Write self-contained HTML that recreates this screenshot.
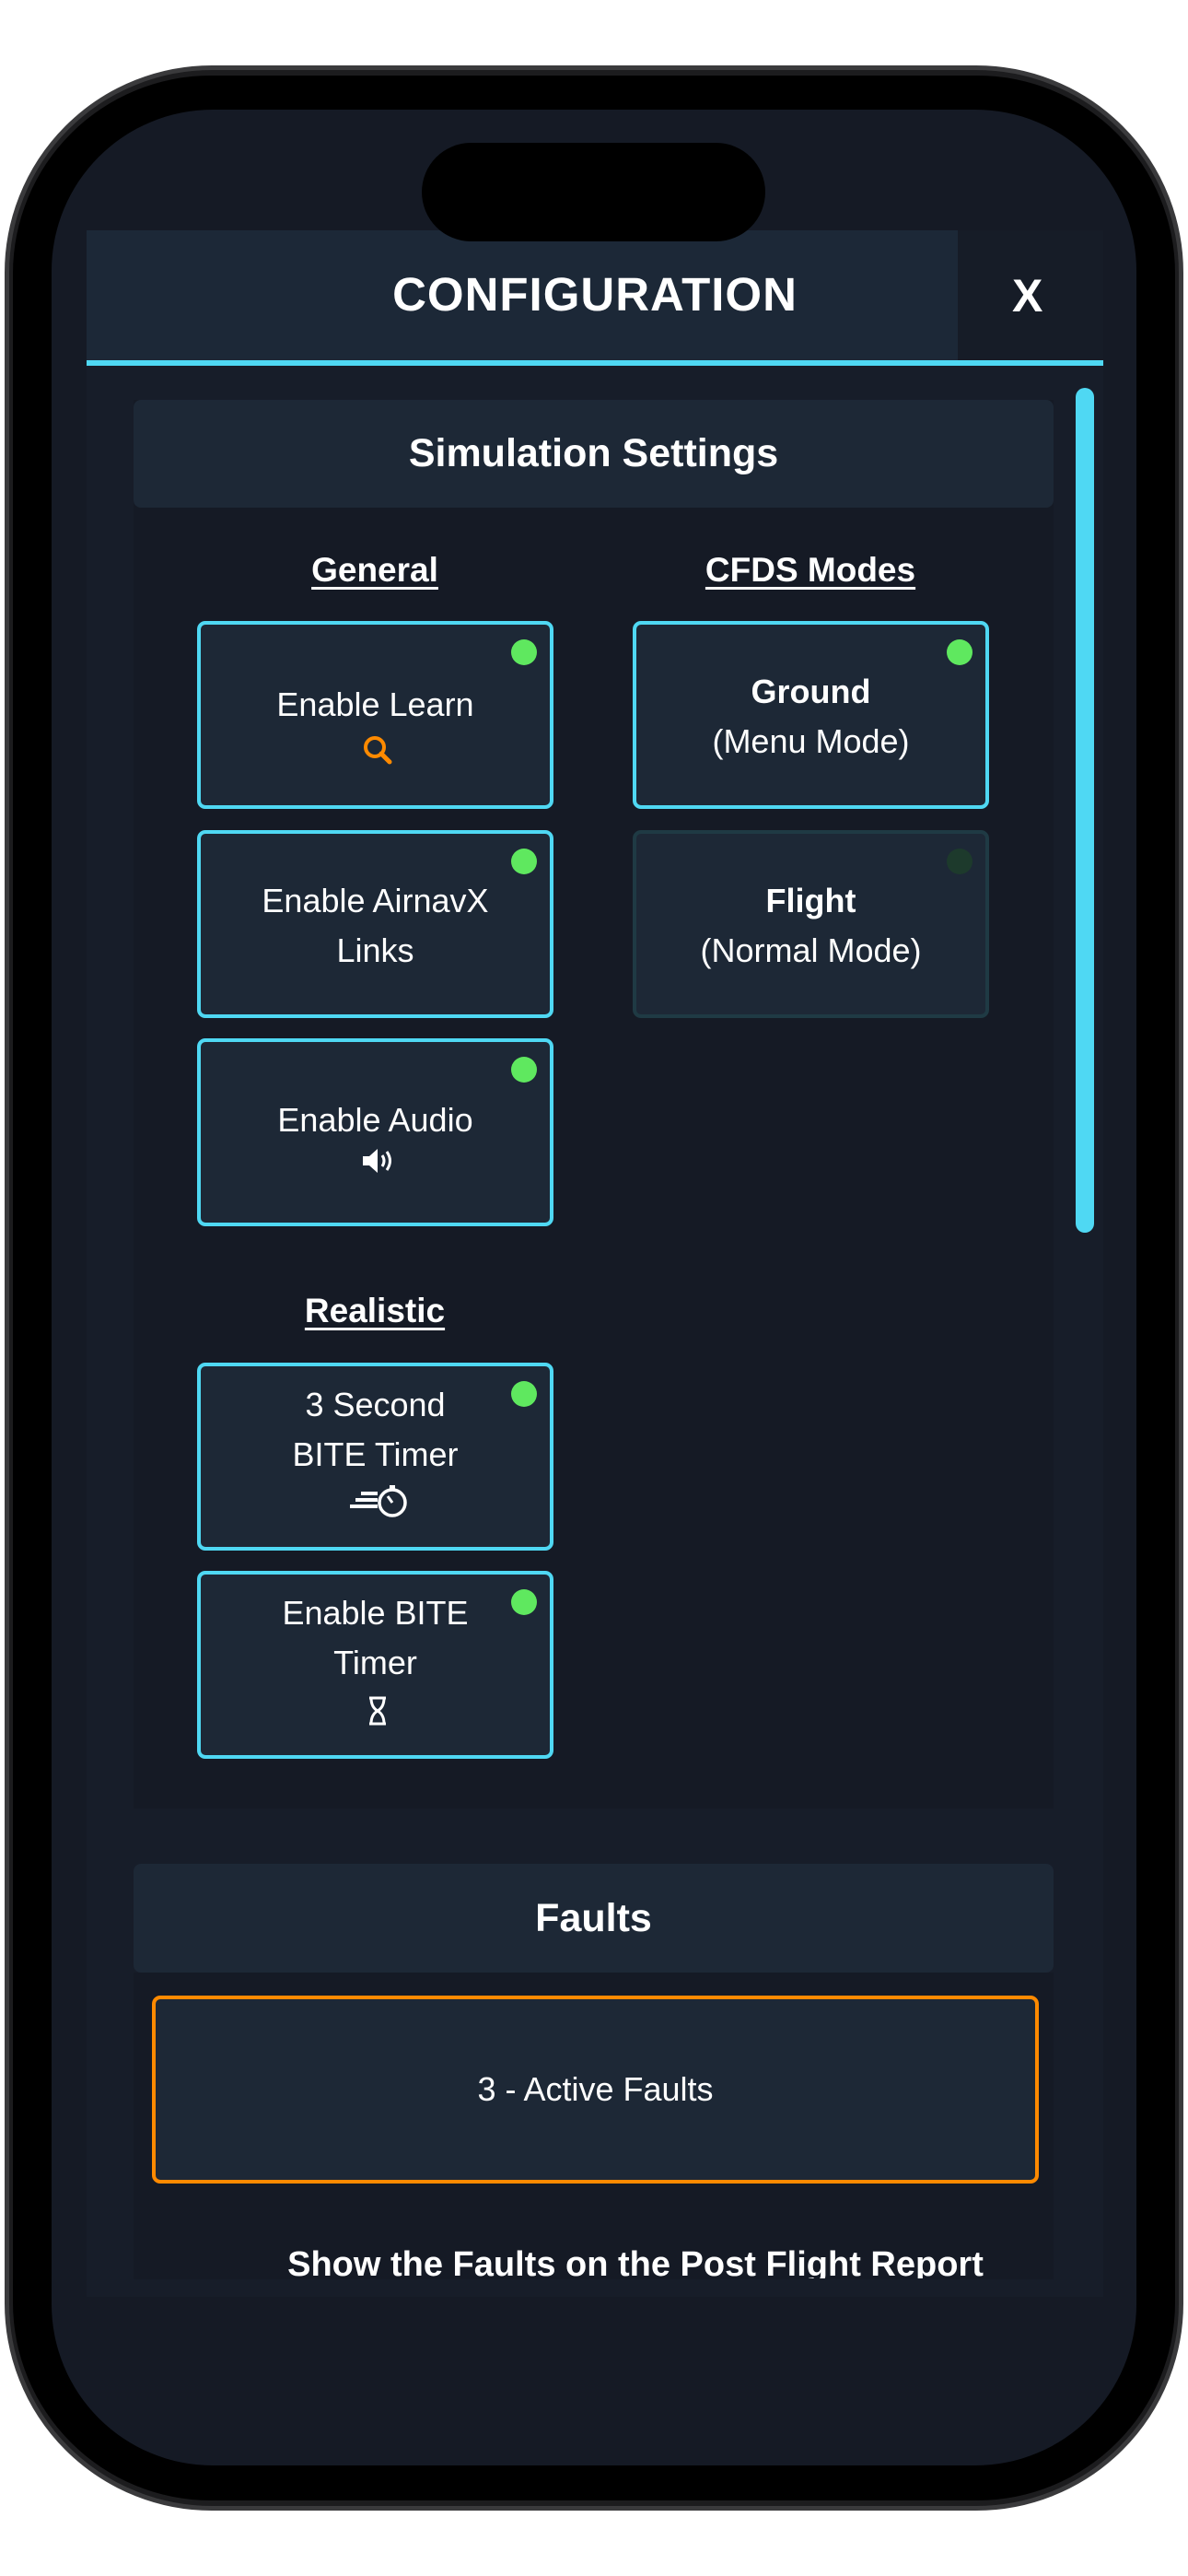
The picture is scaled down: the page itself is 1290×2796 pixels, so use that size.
<!DOCTYPE html>
<html><head><meta charset="utf-8">
<style>
*{margin:0;padding:0;box-sizing:border-box}
body{width:1290px;height:2796px;background:#fff;position:relative;overflow:hidden;font-family:"Liberation Sans","DejaVu Sans",sans-serif;color:#fff}
.abs{position:absolute}
.phone{left:5px;top:71px;width:1280px;height:2654px;border-radius:225px;background:#1c1c1e;border:5px solid #3a3a3c}
.bezel{left:14px;top:82px;width:1262px;height:2632px;border-radius:215px;background:#000}
.screen{left:56px;top:119px;width:1178px;height:2557px;border-radius:175px;background:#151a25;overflow:hidden}
.island{left:458px;top:155px;width:373px;height:107px;border-radius:54px;background:#000}
.content{left:94px;top:250px;width:1104px;height:2243px;background:#171d29}
.hdr{left:94px;top:250px;width:946px;height:144px;background:#1c2837}
.hdrx{left:1040px;top:250px;width:158px;height:144px;background:#161c27}
.cyanline{left:94px;top:391px;width:1104px;height:6px;background:#4fd8f3}
.scroll{left:1168px;top:421px;width:20px;height:917px;border-radius:10px;background:#4fd8f3}
.panel{left:145px;top:434px;width:999px;height:1529px;background:#151a25}
.band{left:145px;top:434px;width:999px;height:117px;background:#1d2836;border-radius:8px;display:flex;align-items:center;justify-content:center;font-weight:bold;font-size:43px}
.sub{font-weight:bold;font-size:37px;text-decoration:underline;text-underline-offset:6px;text-align:center;width:400px}
.btn{width:387px;height:204px;border:4px solid #4fd8f3;border-radius:9px;background:#1d2836;font-size:36px;text-align:center;line-height:54px}
.btn .dot{position:absolute;right:14px;top:16px;width:28px;height:28px;border-radius:50%;background:#5fe85f}
.btn .t{position:absolute;left:0;right:0}
.off{border-color:#1f3a44}
.off .dot{background:#1d3a2c}
.faults{left:145px;top:2023px;width:999px;height:118px;background:#1d2836;border-radius:8px;display:flex;align-items:center;justify-content:center;font-weight:bold;font-size:43px}
.panel2{left:145px;top:2141px;width:999px;height:333px;background:#151a25}
.af{left:165px;top:2166px;width:963px;height:204px;border:4px solid #ff8a00;border-radius:9px;background:#1d2836;font-size:36px;display:flex;align-items:center;justify-content:center}
.show{left:145px;top:2425px;width:1090px;height:48px;overflow:hidden;text-align:center;font-weight:bold;font-size:38px;line-height:66px}
</style></head><body>
<div class="abs phone"></div>
<div class="abs bezel"></div>
<div class="abs screen"></div>
<div class="abs content"></div>
<div class="abs hdr"></div>
<div class="abs hdrx"></div>
<div class="abs island"></div>
<div class="abs" style="left:94px;top:290px;width:1104px;text-align:center;font-weight:bold;font-size:51px;letter-spacing:1px">CONFIGURATION</div>
<div class="abs" style="left:1099px;top:292px;font-weight:bold;font-size:50px">X</div>
<div class="abs cyanline"></div>
<div class="abs panel"></div>
<div class="abs band">Simulation Settings</div>
<div class="abs scroll"></div>

<div class="abs sub" style="left:207px;top:598px">General</div>
<div class="abs sub" style="left:680px;top:598px">CFDS Modes</div>
<div class="abs sub" style="left:207px;top:1402px">Realistic</div>

<div class="abs btn" style="left:214px;top:674px"><div class="dot"></div>
 <div class="t" style="top:60px">Enable Learn</div>
 <svg class="abs" style="left:174px;top:118px" width="36" height="36" viewBox="0 0 36 36"><circle cx="15" cy="15" r="10" fill="none" stroke="#ff8a00" stroke-width="4"/><line x1="22" y1="22" x2="31" y2="31" stroke="#ff8a00" stroke-width="5" stroke-linecap="round"/></svg>
</div>
<div class="abs btn" style="left:214px;top:901px"><div class="dot"></div>
 <div class="t" style="top:46px">Enable AirnavX<br>Links</div>
</div>
<div class="abs btn" style="left:214px;top:1127px"><div class="dot"></div>
 <div class="t" style="top:58px">Enable Audio</div>
 <svg class="abs" style="left:174px;top:114px" width="36" height="30" viewBox="0 0 36 30"><path d="M2 10h7l9-8v26l-9-8H2z" fill="#fff"/><path d="M23 9q4 6 0 12M28 5q7 10 0 20" stroke="#fff" stroke-width="3" fill="none"/></svg>
</div>
<div class="abs btn" style="left:214px;top:1479px"><div class="dot"></div>
 <div class="t" style="top:15px">3 Second<br>BITE Timer</div>
 <svg class="abs" style="left:160px;top:126px" width="66" height="40" viewBox="0 0 66 40"><rect x="14" y="10" width="18" height="4" fill="#fff"/><rect x="8" y="17" width="24" height="4" fill="#fff"/><rect x="2" y="24" width="30" height="4" fill="#fff"/><circle cx="48" cy="22" r="14" fill="none" stroke="#fff" stroke-width="3.5"/><line x1="48" y1="22" x2="43" y2="15" stroke="#fff" stroke-width="3"/><rect x="45" y="3" width="6" height="4" fill="#fff"/></svg>
</div>
<div class="abs btn" style="left:214px;top:1705px"><div class="dot"></div>
 <div class="t" style="top:15px">Enable BITE<br>Timer</div>
 <svg class="abs" style="left:180px;top:132px" width="24" height="32" viewBox="0 0 24 32"><path d="M3 2h18M3 30h18M5 2q0 10 7 14q7-4 7-14M5 30q0-10 7-14q7 4 7 14" stroke="#fff" stroke-width="3" fill="none"/></svg>
</div>

<div class="abs btn" style="left:687px;top:674px"><div class="dot"></div>
 <div class="t" style="top:46px"><b>Ground</b><br>(Menu Mode)</div>
</div>
<div class="abs btn off" style="left:687px;top:901px"><div class="dot"></div>
 <div class="t" style="top:46px"><b>Flight</b><br>(Normal Mode)</div>
</div>

<div class="abs faults">Faults</div>
<div class="abs panel2"></div>
<div class="abs af">3 - Active Faults</div>
<div class="abs show">Show the Faults on the Post Flight Report</div>
</body></html>
